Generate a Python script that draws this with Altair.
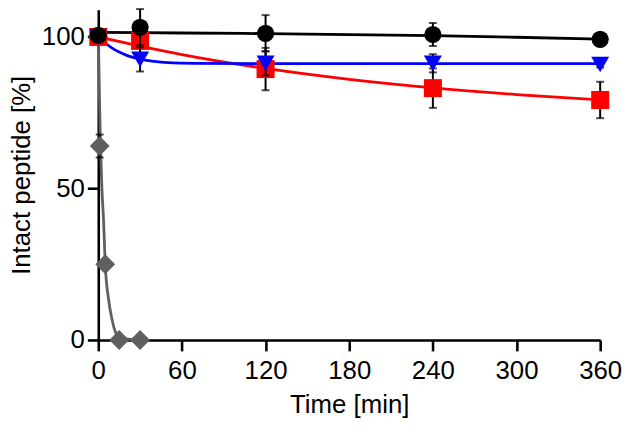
import altair as alt
import pandas as pd

# ---- measured points (mean, error) ----
time_pts = [0, 30, 120, 240, 360]
black_mean = [100.5, 103.2, 101.2, 100.8, 99.2]
black_err = [0.0, 6.0, 6.0, 3.8, 0.8]
red_mean = [100.0, 98.7, 89.4, 83.1, 79.2]
red_err = [0.5, 2.0, 7.0, 6.5, 6.0]
blue_mean = [100.0, 92.6, 91.3, 91.3, 90.9]
blue_err = [0.5, 4.0, 4.0, 3.0, 1.0]
gray_time = [0, 1, 5, 15, 30]
gray_mean = [100, 64, 25, 0, 0]
gray_err = [0, 3.8, 0, 0, 0]

# ---- fitted curves ----
black_fit_t = [0, 60, 120, 180, 240, 300, 360]
black_fit_y = [101.5, 101.3, 101.1, 100.8, 100.4, 99.9, 99.3]
red_fit_t = [0, 30, 60, 120, 180, 240, 300, 360]
red_fit_y = [100, 97.0, 94.2, 89.6, 86.0, 83.2, 81.0, 79.2]
blue_fit_t = [0, 5, 10, 15, 20, 30, 40, 50, 70, 120, 240, 360]
blue_fit_y = [100, 98.0, 96.3, 95.0, 94.0, 92.7, 91.9, 91.5, 91.3, 91.2, 91.2, 91.2]
gray_fit_t = [0, 1.5, 2.6, 3.8, 5, 7.4, 9.8, 12.3, 15, 30]
gray_fit_y = [100, 66, 50, 39.6, 25, 13.4, 6.9, 2.6, 0.8, 0]

series = [
    # name, times, mean, err, fit_t, fit_y, color, shape, size
    ("gray", gray_time, gray_mean, gray_err, gray_fit_t, gray_fit_y, "#5f5f5f", "diamond", 400),
    ("red", time_pts, red_mean, red_err, red_fit_t, red_fit_y, "#ff0000", "square", 330),
    ("blue", time_pts, blue_mean, blue_err, blue_fit_t, blue_fit_y, "#0000ff", "triangle-down", 330),
    ("black", time_pts, black_mean, black_err, black_fit_t, black_fit_y, "#000000", "circle", 300),
]

FONT = "Liberation Sans"
FS = 26
xscale = alt.Scale(domain=[0, 360], nice=False, zero=False)
yscale = alt.Scale(domain=[0, 109], nice=False, zero=False)
xaxis = alt.Axis(values=[0, 60, 120, 180, 240, 300, 360], title="Time [min]",
                 labelBaseline="alphabetic", labelPadding=28, labelFlush=False,
                 titleY=73, titleBaseline="alphabetic")
yaxis = alt.Axis(values=[0, 50, 100], title="Intact peptide [%]", labelPadding=3,
                 labelFlush=False,
                 titleX=-69, titleY=166.5, titleBaseline="alphabetic", titleAlign="center")


def X(f):
    return alt.X(f, type="quantitative", scale=xscale, axis=xaxis)


def Y(f):
    return alt.Y(f, type="quantitative", scale=yscale, axis=yaxis)


lines = []
points = []
for name, ts, ms, es, ft, fy, col, shp, sz in series:
    fit_df = pd.DataFrame({"t": ft, "v": fy})
    lines.append(
        alt.Chart(fit_df).mark_line(color=col, strokeWidth=2.8, interpolate="monotone")
        .encode(x=X("t"), y=Y("v"))
    )
    pdf = pd.DataFrame({"t": ts, "v": ms, "e": es})
    pdf["lo"] = pdf["v"] - pdf["e"]
    pdf["hi"] = pdf["v"] + pdf["e"]
    err_df = pdf[pdf["e"] > 0]
    points.append(
        alt.Chart(err_df).mark_rule(color="black", strokeWidth=2)
        .encode(x=X("t"), y=Y("lo"), y2="hi")
    )
    points.append(
        alt.Chart(err_df).mark_tick(color="black", orient="horizontal", size=8, thickness=2)
        .encode(x=X("t"), y=Y("lo"))
    )
    points.append(
        alt.Chart(err_df).mark_tick(color="black", orient="horizontal", size=8, thickness=2)
        .encode(x=X("t"), y=Y("hi"))
    )
    points.append(
        alt.Chart(pdf).mark_point(shape=shp, size=sz, filled=True, color=col, opacity=1)
        .encode(x=X("t"), y=Y("v"))
    )

chart = (
    alt.layer(*lines, *points)
    .properties(
        width=506, height=333,
        autosize=alt.AutoSizeParams(type="none"),
        padding={"left": 91, "top": 0, "right": 22, "bottom": 80},
    )
    .configure_view(stroke=None)
    .configure_axis(
        grid=False,
        labelFont=FONT, labelFontSize=FS, labelColor="black",
        titleFont=FONT, titleFontSize=FS, titleColor="black", titleFontWeight="normal",
        domainColor="black", domainWidth=2.6, tickColor="black", tickWidth=2.6, tickSize=11,
    )
)

chart.save("out.html", embed_options={"renderer": "svg", "actions": False})
